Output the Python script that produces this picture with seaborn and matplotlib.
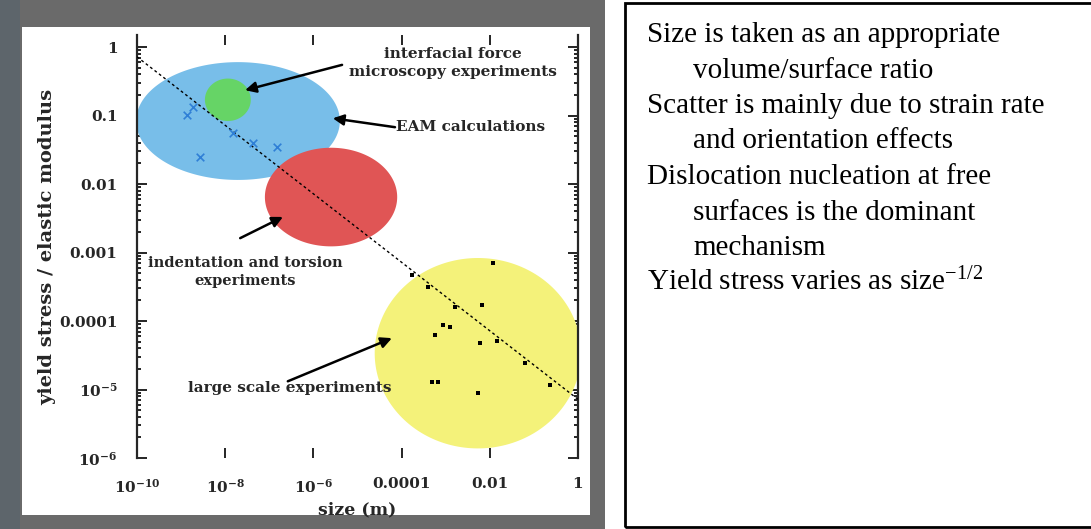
import numpy as np
import pandas as pd
import matplotlib
matplotlib.use("Agg")
import matplotlib.pyplot as plt
import seaborn as sns
from matplotlib.patches import Rectangle

# ---------------- data (log10 units) ----------------
region_names = ["EAM calculations", "interfacial force microscopy",
                "indentation and torsion", "large scale experiments"]
region_logx = [-7.71, -7.94, -5.60, -2.27]
region_logy = [-1.08, -0.77, -2.19, -4.47]
region_rx = [2.31, 0.52, 1.50, 2.34]
region_ry = [0.86, 0.31, 0.72, 1.39]
region_colors = ["#78bee9", "#66d466", "#e05555", "#f4f27a"]

# size^-1/2 trend line end points
line_x = [1e-10, 1.0]
line_y = [0.72, 7.2e-6]

# scattered data points (log10 size, log10 stress/modulus)
large_logx = [-2.79, -3.06, -3.24, -2.90, -2.18, -2.22, -1.84, -3.31, -3.17,
              -2.27, -3.76, -3.40, -1.20, -0.63, -1.93]
large_logy = [-3.80, -4.06, -4.20, -4.09, -3.77, -4.32, -4.29, -4.89, -4.89,
              -5.05, -3.33, -3.50, -4.61, -4.93, -3.15]
eam_logx = [-8.87, -8.73, -7.82, -7.37, -6.83, -8.57]
eam_logy = [-0.99, -0.88, -1.26, -1.40, -1.46, -1.61]

# annotations: text, text position (log), arrow tail, arrow head (log)
ann_text = ["interfacial force\nmicroscopy experiments", "EAM calculations",
            "indentation and torsion\nexperiments", "large scale experiments"]
ann_logx = [-2.84, -4.12, -7.55, -6.53]
ann_logy = [-0.23, -1.17, -3.28, -4.98]
ann_ha = ["center", "left", "center", "center"]
tail_logx = [-5.35, -4.15, -7.66, -6.58]
tail_logy = [-0.26, -1.17, -2.79, -4.88]
head_logx = [-7.55, -5.56, -6.69, -4.22]
head_logy = [-0.63, -1.04, -2.48, -4.25]
ann_size = [11, 11, 10.5, 11]

x_ticks = [1e-10, 1e-8, 1e-6, 1e-4, 1e-2, 1]
x_ticklabels = ["$\\mathbf{10^{-10}}$", "$\\mathbf{10^{-8}}$", "$\\mathbf{10^{-6}}$",
                "0.0001", "0.01", "1"]
y_ticks = [1e-6, 1e-5, 1e-4, 1e-3, 1e-2, 1e-1, 1]
y_ticklabels = ["$\\mathbf{10^{-6}}$", "$\\mathbf{10^{-5}}$", "0.0001", "0.001",
                "0.01", "0.1", "1"]

notes = [("Size is taken as an appropriate", 0),
         ("volume/surface ratio", 1),
         ("Scatter is mainly due to strain rate", 0),
         ("and orientation effects", 1),
         ("Dislocation nucleation at free", 0),
         ("surfaces is the dominant", 1),
         ("mechanism", 1),
         ("Yield stress varies as size$^{\\mathrm{-1/2}}$", 0)]

# ---------------- style ----------------
sns.set_style("ticks")
plt.rcParams["font.family"] = ["DejaVu Serif", "DejaVu Sans"]
plt.rcParams["mathtext.fontset"] = "custom"
plt.rcParams["mathtext.rm"] = "Liberation Serif"
plt.rcParams["mathtext.it"] = "Liberation Serif:italic"
plt.rcParams["mathtext.bf"] = "DejaVu Serif:bold"

W, H = 1091, 529
fig = plt.figure(figsize=(W / 100, H / 100), dpi=100)
fig.patch.set_facecolor("white")

def fx(px):
    return px / W

def fy(py):
    return 1 - py / H

# picture frame (grey) and inner white
fig.add_artist(Rectangle((0, 0), fx(605), 1, transform=fig.transFigure,
                         facecolor="#6a6a6a", edgecolor="none", zorder=0))
fig.add_artist(Rectangle((0, 0), fx(20), 1, transform=fig.transFigure,
                         facecolor="#5d656b", edgecolor="none", zorder=0))
fig.add_artist(Rectangle((fx(22), fy(515)), fx(590 - 22), (515 - 27) / H,
                         transform=fig.transFigure, facecolor="white",
                         edgecolor="none", zorder=0))

# right text box
fig.add_artist(Rectangle((fx(625), fy(527)), fx(1100 - 625), (527 - 3) / H,
                         transform=fig.transFigure, facecolor="none",
                         edgecolor="black", lw=2, zorder=1, clip_on=False))

# ---------------- axes ----------------
ax = fig.add_axes([fx(137), fy(458), fx(578 - 137), (458 - 35) / H])
ax.set_facecolor("none")
ax.set_xscale("log")
ax.set_yscale("log")
ax.set_xlim(1e-10, 1)
ax.set_ylim(1e-6, 1.5)

t = np.linspace(0, 2 * np.pi, 200)
for cx, cy, rx, ry, col in zip(region_logx, region_logy, region_rx, region_ry,
                               region_colors):
    ax.fill(10 ** (cx + rx * np.cos(t)), 10 ** (cy + ry * np.sin(t)),
            color=col, lw=0, zorder=1)

line_df = pd.DataFrame({"size": line_x, "ratio": line_y})
sns.lineplot(data=line_df, x="size", y="ratio", ax=ax, color="black",
             lw=1.0, linestyle=(0, (2, 2)), zorder=3)

large_df = pd.DataFrame({"size": 10 ** np.array(large_logx),
                         "ratio": 10 ** np.array(large_logy)})
sns.scatterplot(data=large_df, x="size", y="ratio", ax=ax, color="black",
                s=6, marker="s", linewidth=0, zorder=4)
eam_df = pd.DataFrame({"size": 10 ** np.array(eam_logx),
                       "ratio": 10 ** np.array(eam_logy)})
sns.scatterplot(data=eam_df, x="size", y="ratio", ax=ax, color="#2f7fd6",
                s=30, marker="x", linewidth=1.2, zorder=4)

for txt, lx, ly, ha, tx, ty, hx, hy, fs in zip(ann_text, ann_logx, ann_logy,
                                               ann_ha, tail_logx, tail_logy,
                                               head_logx, head_logy, ann_size):
    ax.text(10 ** lx, 10 ** ly, txt, ha=ha, va="center", fontsize=fs,
            fontweight="bold", linespacing=1.35, zorder=6)
    ax.annotate("", xy=(10 ** hx, 10 ** hy), xytext=(10 ** tx, 10 ** ty),
                arrowprops=dict(arrowstyle="-|>", color="black", lw=1.8,
                                mutation_scale=16, shrinkA=0, shrinkB=0),
                zorder=6)

ax.set_xticks(x_ticks)
ax.set_xticklabels(x_ticklabels)
ax.set_yticks(y_ticks)
ax.set_yticklabels(y_ticklabels)
for lab in ax.get_xticklabels() + ax.get_yticklabels():
    lab.set_fontweight("bold")
    lab.set_fontsize(11)
ax.tick_params(which="both", direction="in", top=True, right=True,
               width=1.2, color="black")
ax.tick_params(which="major", length=7, pad=14)
ax.tick_params(which="minor", length=3)
ax.spines["top"].set_visible(False)
ax.spines["bottom"].set_visible(False)
ax.spines["left"].set_linewidth(1.6)
ax.spines["right"].set_linewidth(1.6)
ax.set_xlabel("size (m)", fontsize=12.5, fontweight="bold", labelpad=4)
ax.set_ylabel("yield stress / elastic modulus", fontsize=14,
              fontweight="bold", labelpad=2)

# ---------------- notes ----------------
base = 42
pitch = 35.5
for i, (line, indent) in enumerate(notes):
    xpx = 693 if indent else 647
    fig.text(fx(xpx), fy(base + i * pitch), line, ha="left", va="baseline",
             fontsize=21, family="Liberation Serif", color="black")

fig.savefig("out.png", dpi=100)
